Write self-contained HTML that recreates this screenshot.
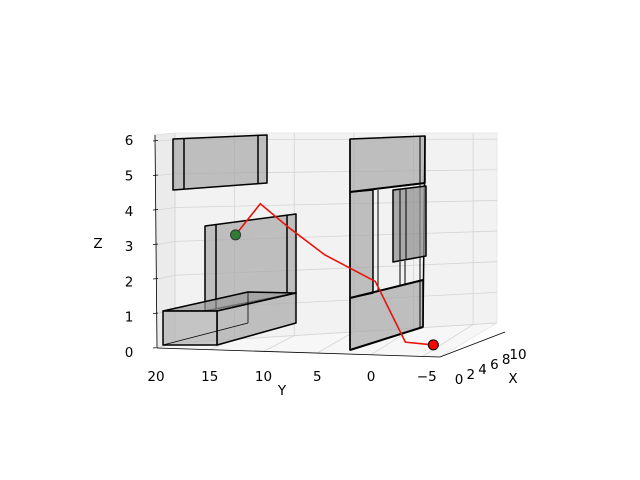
<!DOCTYPE html>
<html><head><meta charset="utf-8"><style>
body{margin:0;background:#fff}
svg{display:block;font-family:"DejaVu Sans","Liberation Sans",sans-serif}
</style></head><body>
<svg id="chart" width="640" height="480" viewBox="0 0 640 480">
<g>
 <polygon points="175,133 497,133 497,323 175,343" fill="#f2f2f2" stroke="#e8e8e8"/>
 <polygon points="155,135 175,133 175,343 157,348" fill="#ebebeb" stroke="#e0e0e0"/>
 <polygon points="157,348 175,343 497,323 440,357" fill="#f7f7f7" stroke="#e8e8e8"/>
</g>
<g id="grid" stroke="#d4d4d4" stroke-width="0.8"></g>
<g stroke="#000" stroke-width="1.5" stroke-linejoin="round">
 <g>
  <polygon points="173,139 267,135 267,183 173,190" fill="#a8a8a8" fill-opacity="0.7"/>
  <line x1="184" y1="138" x2="184" y2="189"/><line x1="258" y1="136" x2="258" y2="184"/>
 </g>
 <g>
  <polygon points="205,226 296,214 296,293 205,311" fill="#a8a8a8" fill-opacity="0.7"/>
  <line x1="216" y1="225" x2="216" y2="311"/><line x1="287" y1="215" x2="287" y2="293"/>
 </g>
 <g>
  <polygon points="163,311 217,311 296,293 248,292" fill="#9a9a9a" fill-opacity="0.7"/>
  <polygon points="217,311 296,293 296,323 217,345" fill="#a8a8a8" fill-opacity="0.7"/>
  <polygon points="163,311 217,311 217,345 163,345" fill="#b0b0b0" fill-opacity="0.7"/>
  <line x1="248" y1="292" x2="248" y2="323" stroke-width="0.8"/><line x1="163" y1="345" x2="248" y2="323" stroke-width="0.8"/>
 </g>
 <g>
  <polygon points="350,139 425,136 425,183 350,192" fill="#a8a8a8" fill-opacity="0.7"/>
  <polygon points="350,298 423,280 423,327 350,350" fill="#a8a8a8" fill-opacity="0.7"/>
  <polygon points="350,192 373,190 373,293 350,298" fill="#a8a8a8" fill-opacity="0.7"/>
  <line x1="350" y1="139" x2="350" y2="350"/><line x1="425" y1="136" x2="423" y2="327"/>
  <line x1="378" y1="190" x2="378" y2="292" stroke-width="1"/><line x1="373" y1="190" x2="373" y2="293" stroke-width="1"/>
  <line x1="420" y1="137" x2="420" y2="328" stroke-width="1"/>
  <line x1="400" y1="262" x2="400" y2="285" stroke-width="1"/><line x1="405" y1="261" x2="405" y2="284" stroke-width="1"/>
  <line x1="350" y1="192" x2="425" y2="183" stroke-width="2"/><line x1="350" y1="298" x2="423" y2="280" stroke-width="2"/>
  <line x1="350" y1="350" x2="423" y2="327" stroke-width="2"/>
  <polygon points="393,190 426,186 426,256 393,262" fill="#909090" fill-opacity="0.75"/>
  <line x1="400" y1="189" x2="400" y2="261" stroke-width="1"/><line x1="406" y1="188" x2="406" y2="260" stroke-width="1"/>
 </g>
</g>
<g stroke="#000" stroke-width="0.8">
 <line x1="155" y1="135" x2="157" y2="348"/>
 <line x1="157" y1="348" x2="440" y2="357"/>
 <line x1="440" y1="357" x2="505" y2="332"/>
</g>
<g id="ticks" font-size="13.5" fill="#000"></g>
<text x="98" y="248" font-size="13.5" text-anchor="middle">Z</text>
<text x="282" y="395" font-size="13.5" text-anchor="middle">Y</text>
<text x="513" y="383" font-size="13.5" text-anchor="middle">X</text>
<g id="series"></g>
</svg>
<script>
const zTicks=[0,1,2,3,4,5,6];
const yTicks=[20,15,10,5,0,-5];
const xTicks=[0,2,4,6,8,10];
const pathY=[12.6,10.3,7.6,4.3,-0.4,-3.2,-5.8];
const pathZ=[3.28,4.18,3.48,2.70,1.93,0.17,0.09];
const NS="http://www.w3.org/2000/svg";
function sy(z){return 348-34.5*z;}
function sx(y){return 371-10.75*y;}
function mk(tag,attrs,parent){const e=document.createElementNS(NS,tag);for(const k in attrs)e.setAttribute(k,attrs[k]);parent.appendChild(e);return e;}
const grid=document.getElementById('grid'),ticks=document.getElementById('ticks'),series=document.getElementById('series');
zTicks.forEach(z=>{
 const yb=343-(343-133)*z/6.2, yf=sy(z);
 const l=mk('line',{x1:157,y1:yf,x2:175,y2:yb},grid);
 
 const l2=mk('line',{x1:175,y1:yb,x2:497,y2:yb-20*(1-z/6.2)},grid);
 
 const tk=mk('line',{x1:153,y1:yf,x2:158,y2:yf-0.5,stroke:'#000','stroke-width':0.8},grid);
 
 const t=mk('text',{x:129,y:yf+9-z*0.8,'text-anchor':'middle'},ticks);t.textContent=z;
 
});
yTicks.forEach(y=>{
 const xf=sx(y)-(y<0?2:0), xb=175+(497-175)*(20-y)/27;
 const l=mk('line',{x1:xf,y1:348+9*(20-y)/27,x2:xb,y2:343-20*(20-y)/27},grid);
 
 const l2=mk('line',{x1:xb,y1:343-20*(20-y)/27,x2:xb,y2:133},grid);
 
 const t=mk('text',{x:sx(y)-(y<0?-2:0),y:381,'text-anchor':'middle'},ticks);t.textContent=y<0?'\u2212'+(-y):y;
 
});
xTicks.forEach((x,i)=>{
 const t=mk('text',{x:459+x*5.9,y:384-x*2.5,'text-anchor':'middle'},ticks);t.textContent=x;
 
});
const pts=pathY.map((y,i)=>sx(y)+','+sy(pathZ[i])).join(' ');
const pl=mk('polyline',{points:pts,fill:'none',stroke:'#e8140c','stroke-width':1.6},series);

const n=pathY.length-1;
const s=mk('circle',{cx:sx(pathY[0]),cy:sy(pathZ[0]),r:5,fill:'#2e7d32',stroke:'#333'},series);

const e=mk('circle',{cx:sx(pathY[n]),cy:sy(pathZ[n]),r:5,fill:'#ff0000',stroke:'#000'},series);

</script>
</body></html>
